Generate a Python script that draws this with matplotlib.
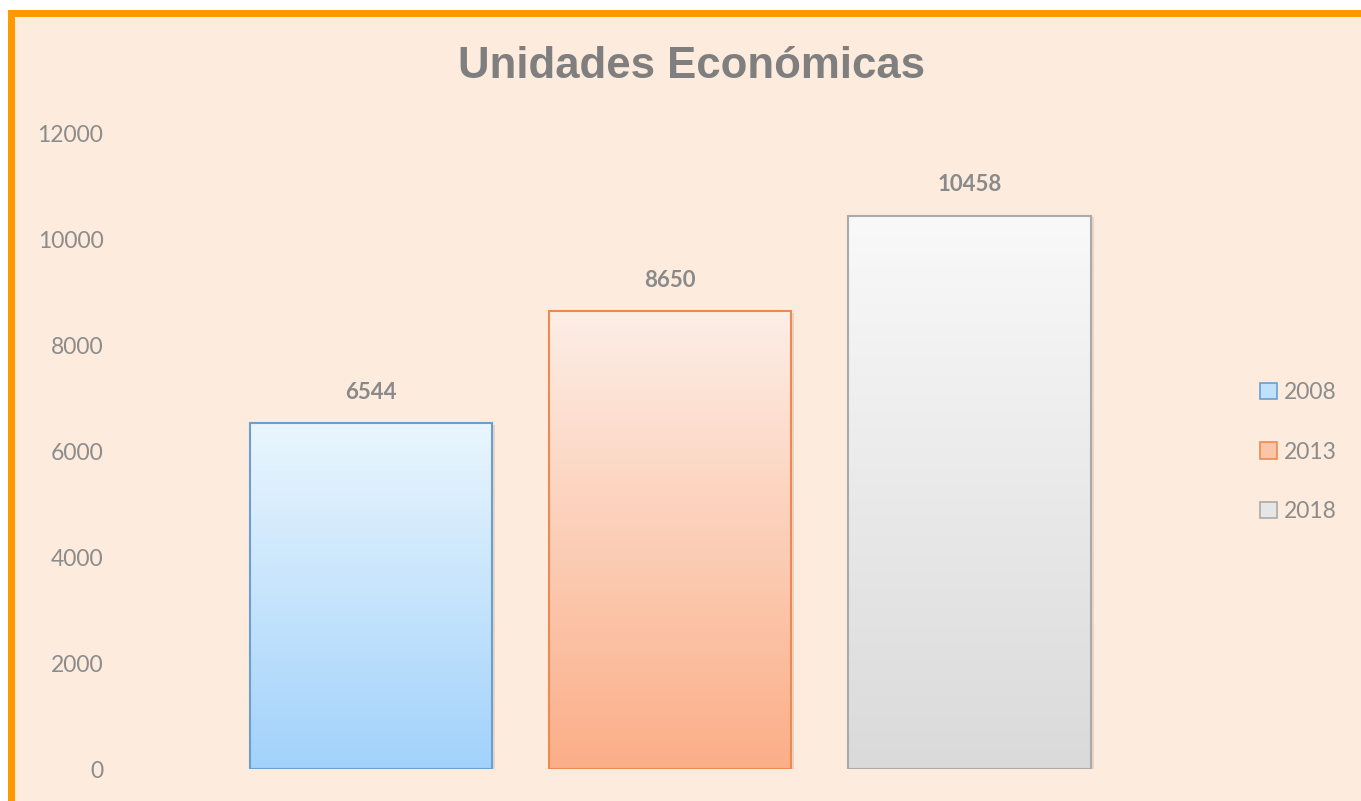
import matplotlib
matplotlib.use("Agg")
import matplotlib.pyplot as plt
import numpy as np
from matplotlib.patches import Rectangle, Patch
from matplotlib.colors import LinearSegmentedColormap

categories = ["2008", "2013", "2018"]
values = [6544, 8650, 10458]
yticks = [0, 2000, 4000, 6000, 8000, 10000, 12000]
title = "Unidades Económicas"

top_colors = ["#eaf6fe", "#fdeee6", "#f9f9f9"]
bot_colors = ["#a2d2fb", "#fbae88", "#dadada"]
edge_colors = ["#6a9fd0", "#ee8a4f", "#aaaaaa"]
legend_face = ["#bfe1fc", "#fcc5a8", "#e6e6e6"]

W, H = 1361, 801
fig = plt.figure(figsize=(W / 100, H / 100), dpi=100)
fig.patch.set_facecolor("white")
bg = "#fdebdd"

# chart area background and orange border
fig.patches.append(Rectangle((8 / W, 0), 1 - 8 / W, 1 - 10 / H, transform=fig.transFigure,
                             facecolor=bg, edgecolor="none", zorder=-10))
fig.patches.append(Rectangle((8 / W, 1 - 17 / H), 1 - 8 / W, 7 / H, transform=fig.transFigure,
                             facecolor="#ff9900", edgecolor="none", zorder=-5))
fig.patches.append(Rectangle((8 / W, 0), 7 / W, 1 - 10 / H, transform=fig.transFigure,
                             facecolor="#ff9900", edgecolor="none", zorder=-5))

left, right = 221.5, 1119
bottom, top = 801 - 769, 801 - 134
ax = fig.add_axes([left / W, bottom / H, (right - left) / W, (top - bottom) / H])
ax.set_facecolor("none")
for s in ax.spines.values():
    s.set_visible(False)
ax.set_xticks([])

x = np.arange(len(categories))
width = 0.81
grad = np.linspace(0, 1, 256).reshape(-1, 1)
bars = ax.bar(x, values, width=width, color="none", edgecolor="none")
for i, b in enumerate(bars):
    bx, by, bw, bh = b.get_x(), b.get_y(), b.get_width(), b.get_height()
    sh = Rectangle((bx + 0.01, by - 35), bw, bh, facecolor="#bfae9f", alpha=0.35,
                   edgecolor="none", zorder=1)
    ax.add_patch(sh)
    cmap = LinearSegmentedColormap.from_list("g%d" % i, [top_colors[i], bot_colors[i]])
    im = ax.imshow(grad, cmap=cmap, aspect="auto", extent=[bx, bx + bw, by, by + bh],
                   origin="upper", zorder=2)
    frame = Rectangle((bx, by), bw, bh, facecolor="none", edgecolor=edge_colors[i],
                      linewidth=1.5, zorder=3)
    ax.add_patch(frame)
    im.set_clip_path(frame)
    ax.text(x[i], values[i] + 580, str(values[i]), ha="center", va="center",
            fontsize=16, fontweight="bold", color="#8a8a8a", family="Lato", zorder=4)

ax.set_xlim(-0.5, 2.5)
ax.set_ylim(0, 12000)
ax.set_yticks(yticks)
ax.set_yticklabels([str(t) for t in yticks], fontsize=16.5, color="#8c8c8c", family="Lato")
ax.tick_params(axis="y", length=0, pad=85)

fig.text(691 / W, 1 - 66 / H, title, ha="center", va="center", fontsize=31.5,
         fontweight="bold", color="#7f7f7f", family="Liberation Sans")

handles = [Patch(facecolor=legend_face[i], edgecolor=edge_colors[i], linewidth=1.2)
           for i in range(len(categories))]
leg = fig.legend(handles, categories, loc="center left", bbox_to_anchor=(1239 / W, 1 - 452 / H),
                 frameon=False, labelcolor="#8c8c8c", handlelength=0.75,
                 handleheight=0.75, handletextpad=0.3, labelspacing=1.68,
                 prop={"family": "Lato", "size": 16.5})

fig.savefig("out.png", dpi=100, facecolor=fig.get_facecolor())
